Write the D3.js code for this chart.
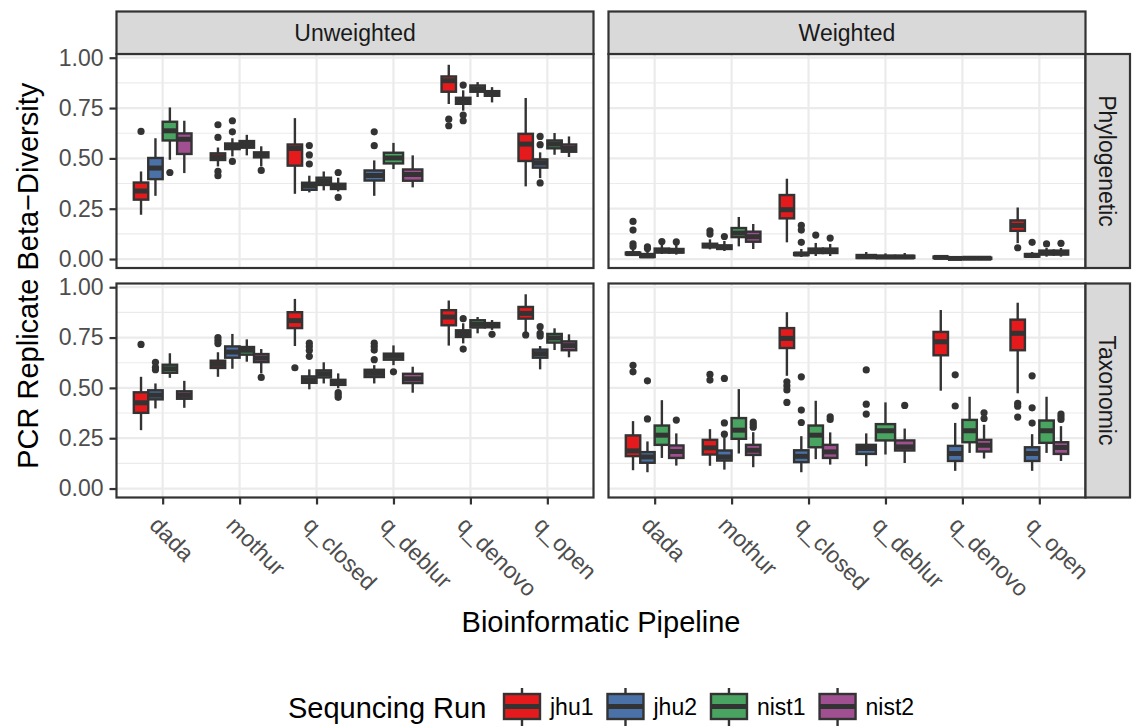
<!DOCTYPE html>
<html>
<head>
<meta charset="utf-8">
<script src="https://cdn.jsdelivr.net/npm/d3@7"></script>
<style>
  html, body { margin: 0; padding: 0; background: #ffffff; }
  svg { display: block; font-family: "Liberation Sans", Arial, Helvetica, sans-serif; }
</style>
</head>
<body>
<svg id="chart" width="1133" height="726"></svg>
<script>
// ---- data -------------------------------------------------------------
const pipelines = ["dada", "mothur", "q_closed", "q_deblur", "q_denovo", "q_open"];
const runs = ["jhu1", "jhu2", "nist1", "nist2"];
const runColors = ["#E41A1C", "#4A72A8", "#48A460", "#A05090"];
const metrics = ["Unweighted", "Weighted"];
const methods = ["Phylogenetic", "Taxonomic"];
const yTicks = [0, 0.25, 0.5, 0.75, 1];

// Box summaries [lower whisker, Q1, median, Q3, upper whisker] per pipeline,
// one entry per sequencing run (null = run not available for that pipeline).
const unweightedPhylo = [
  [[0.22, 0.295, 0.338, 0.38, 0.435], [0.314, 0.397, 0.452, 0.502, 0.60], [0.493, 0.589, 0.637, 0.682, 0.753], [0.427, 0.522, 0.595, 0.624, 0.687]],
  [[0.46, 0.492, 0.507, 0.525, 0.554], [0.51, 0.546, 0.56, 0.574, 0.60], [0.515, 0.553, 0.569, 0.586, 0.617], [0.46, 0.505, 0.518, 0.53, 0.56]],
  [[0.324, 0.464, 0.549, 0.569, 0.70], [0.331, 0.344, 0.365, 0.379, 0.414], [0.341, 0.368, 0.385, 0.404, 0.435], [0.336, 0.348, 0.36, 0.374, 0.404]],
  [null, [0.314, 0.39, 0.415, 0.44, 0.49], [0.447, 0.475, 0.502, 0.528, 0.577], [0.356, 0.389, 0.42, 0.445, 0.515]],
  [[0.77, 0.831, 0.886, 0.907, 0.965], [0.737, 0.771, 0.785, 0.801, 0.838], [0.805, 0.831, 0.845, 0.862, 0.879], [0.778, 0.811, 0.822, 0.834, 0.854]],
  [[0.361, 0.487, 0.571, 0.622, 0.80], [0.402, 0.454, 0.477, 0.495, 0.53], [0.518, 0.55, 0.571, 0.589, 0.626], [0.507, 0.533, 0.549, 0.569, 0.609]]
];
const unweightedPhyloOut = [
  [[0.634], [], [0.43], []],
  [[0.667, 0.604, 0.435, 0.414], [0.687, 0.632, 0.485], [], [0.44]],
  [[], [0.564, 0.517, 0.472], [], [0.43, 0.306]],
  [[], [0.632, 0.563], [], []],
  [[0.695, 0.662], [0.864, 0.715, 0.687], [], []],
  [[], [0.609, 0.568, 0.378], [], []]
];

const weightedPhylo = [
  [[0.015, 0.023, 0.027, 0.032, 0.05], [0.005, 0.01, 0.016, 0.025, 0.04], [0.025, 0.032, 0.042, 0.052, 0.075], [0.022, 0.032, 0.04, 0.05, 0.07]],
  [[0.048, 0.058, 0.066, 0.076, 0.098], [0.04, 0.05, 0.058, 0.068, 0.09], [0.063, 0.109, 0.129, 0.154, 0.209], [0.05, 0.086, 0.111, 0.136, 0.174]],
  [[0.083, 0.202, 0.245, 0.318, 0.399], [0.01, 0.02, 0.025, 0.03, 0.05], [0.015, 0.03, 0.04, 0.052, 0.08], [0.015, 0.03, 0.04, 0.052, 0.075]],
  [null, [0.0, 0.005, 0.012, 0.02, 0.035], [0.0, 0.006, 0.01, 0.016, 0.028], [0.0, 0.006, 0.01, 0.016, 0.03]],
  [[0.0, 0.005, 0.008, 0.012, 0.02], [0.0, 0.001, 0.003, 0.006, 0.012], [0.0, 0.001, 0.004, 0.007, 0.012], [0.0, 0.001, 0.004, 0.007, 0.012]],
  [[0.079, 0.14, 0.167, 0.192, 0.256], [0.005, 0.012, 0.018, 0.025, 0.035], [0.012, 0.022, 0.032, 0.042, 0.055], [0.012, 0.022, 0.032, 0.042, 0.055]]
];
const weightedPhyloOut = [
  [[0.187, 0.144, 0.076, 0.062], [0.06, 0.052], [0.087], [0.085]],
  [[0.14, 0.124], [0.112], [], []],
  [[], [0.167, 0.144, 0.083], [0.119], [0.104]],
  [[], [], [], []],
  [[], [], [], []],
  [[0.056], [0.083], [0.075], [0.078]]
];

const unweightedTaxo = [
  [[0.29, 0.376, 0.426, 0.478, 0.555], [0.398, 0.443, 0.464, 0.488, 0.522], [0.55, 0.575, 0.595, 0.615, 0.672], [0.401, 0.446, 0.463, 0.483, 0.535]],
  [[0.555, 0.599, 0.617, 0.635, 0.677], [0.595, 0.65, 0.678, 0.706, 0.768], [0.63, 0.665, 0.687, 0.703, 0.741], [0.572, 0.628, 0.648, 0.668, 0.693]],
  [[0.708, 0.797, 0.834, 0.876, 0.942], [0.493, 0.525, 0.54, 0.557, 0.592], [0.522, 0.552, 0.57, 0.587, 0.627], [0.498, 0.515, 0.528, 0.54, 0.572]],
  [null, [0.522, 0.554, 0.572, 0.59, 0.613], [0.613, 0.64, 0.657, 0.67, 0.711], [0.476, 0.524, 0.545, 0.57, 0.605]],
  [[0.71, 0.811, 0.852, 0.886, 0.934], [0.721, 0.753, 0.77, 0.786, 0.821], [0.771, 0.8, 0.816, 0.836, 0.852], [0.788, 0.801, 0.81, 0.822, 0.837]],
  [[0.771, 0.844, 0.87, 0.902, 0.965], [0.592, 0.65, 0.67, 0.69, 0.708], [0.688, 0.725, 0.748, 0.768, 0.796], [0.652, 0.687, 0.71, 0.731, 0.766]]
];
const unweightedTaxoOut = [
  [[0.716], [0.627, 0.602, 0.59], [], []],
  [[0.75, 0.735, 0.72], [], [], [0.552]],
  [[0.60], [0.722, 0.705, 0.686, 0.657], [], [0.476, 0.465, 0.453]],
  [[], [0.722, 0.705, 0.688, 0.64], [0.58], []],
  [[], [0.844, 0.693], [], [0.766]],
  [[0.763], [0.804, 0.771, 0.758], [], []]
];

const weightedTaxo = [
  [[0.091, 0.161, 0.187, 0.264, 0.335], [0.081, 0.128, 0.157, 0.181, 0.234], [0.152, 0.217, 0.265, 0.313, 0.439], [0.114, 0.152, 0.184, 0.214, 0.274]],
  [[0.113, 0.169, 0.202, 0.242, 0.295], [0.094, 0.139, 0.157, 0.189, 0.262], [0.174, 0.247, 0.29, 0.35, 0.494], [0.106, 0.167, 0.19, 0.217, 0.28]],
  [[0.56, 0.698, 0.746, 0.797, 0.876], [0.081, 0.131, 0.16, 0.19, 0.26], [0.146, 0.205, 0.265, 0.313, 0.436], [0.119, 0.152, 0.182, 0.217, 0.279]],
  [null, [0.111, 0.172, 0.199, 0.217, 0.274], [0.169, 0.239, 0.287, 0.32, 0.428], [0.127, 0.189, 0.207, 0.239, 0.298]],
  [[0.486, 0.662, 0.729, 0.778, 0.887], [0.088, 0.137, 0.174, 0.212, 0.326], [0.177, 0.23, 0.287, 0.341, 0.456], [0.149, 0.184, 0.215, 0.242, 0.317]],
  [[0.473, 0.687, 0.771, 0.839, 0.923], [0.088, 0.137, 0.174, 0.205, 0.27], [0.177, 0.227, 0.287, 0.338, 0.456], [0.137, 0.172, 0.204, 0.23, 0.31]]
];
const weightedTaxoOut = [
  [[0.612, 0.58], [0.535, 0.346], [], [0.34]],
  [[0.567, 0.539], [0.547, 0.326, 0.27], [], [0.33, 0.318, 0.305]],
  [[0.53, 0.51, 0.49, 0.428], [0.555, 0.39, 0.328], [], [0.356, 0.343]],
  [[], [0.589, 0.419, 0.37], [], [0.413]],
  [[], [0.565, 0.41], [], [0.376, 0.348]],
  [[0.423, 0.409, 0.355], [0.56, 0.401, 0.325], [], [0.37, 0.356, 0.343]]
];

// ---- layout -----------------------------------------------------------
const svg = d3.select("#chart");
const PW = 477, PH = 214;
const colX = [116.5, 608.5];
const rowY = [54, 283.5];
const stripTop = 11.5;
const stripRightX = colX[1] + PW, stripRightW = 44.5;

const INK = "#333333", GRID = "#EBEBEB";
const SMALL = 23, BIG = 29;

const x = d3.scalePoint().domain(pipelines).range([0, PW]).padding(0.6);
const y = d3.scaleLinear().domain([-0.0445, 1.0185]).range([PH, 0]);
const minorTicks = [0.125, 0.375, 0.625, 0.875];

const panels = [
  { col: 0, row: 0, stats: unweightedPhylo, outs: unweightedPhyloOut },
  { col: 1, row: 0, stats: weightedPhylo, outs: weightedPhyloOut },
  { col: 0, row: 1, stats: unweightedTaxo, outs: unweightedTaxoOut },
  { col: 1, row: 1, stats: weightedTaxo, outs: weightedTaxoOut }
];

function drawBoxes(g, stats, outs) {
  pipelines.forEach((p, i) => {
    const present = runs
      .map((r, j) => ({ j, s: stats[i][j], o: outs[i][j] }))
      .filter(d => d.s);
    const n = present.length;
    const slot = 0.75 * x.step() / n;
    present.forEach((d, k) => {
      const cx = x(p) + (k - (n - 1) / 2) * slot;
      const [lo, q1, med, q3, hi] = d.s;
      const bg = g.append("g");
      bg.selectAll("circle").data(d.o).join("circle")
        .attr("cx", cx).attr("cy", v => y(v)).attr("r", 3.6)
        .attr("fill", INK);
      bg.append("line")
        .attr("x1", cx).attr("x2", cx).attr("y1", y(hi)).attr("y2", y(q3))
        .attr("stroke", INK).attr("stroke-width", 2.4);
      bg.append("line")
        .attr("x1", cx).attr("x2", cx).attr("y1", y(q1)).attr("y2", y(lo))
        .attr("stroke", INK).attr("stroke-width", 2.4);
      bg.append("rect")
        .attr("x", cx - slot / 2).attr("width", slot)
        .attr("y", y(q3)).attr("height", Math.max(0, y(q1) - y(q3)))
        .attr("fill", runColors[d.j]).attr("stroke", INK).attr("stroke-width", 2.4);
      bg.append("line")
        .attr("x1", cx - slot / 2).attr("x2", cx + slot / 2)
        .attr("y1", y(med)).attr("y2", y(med))
        .attr("stroke", INK).attr("stroke-width", 5);
    });
  });
}

panels.forEach(pn => {
  const g = svg.append("g").attr("transform", `translate(${colX[pn.col]},${rowY[pn.row]})`);
  // background grid
  g.selectAll(".minor").data(minorTicks).join("line")
    .attr("x1", 0).attr("x2", PW).attr("y1", d => y(d)).attr("y2", d => y(d))
    .attr("stroke", GRID).attr("stroke-width", 1.1);
  g.selectAll(".majorY").data(yTicks).join("line")
    .attr("x1", 0).attr("x2", PW).attr("y1", d => y(d)).attr("y2", d => y(d))
    .attr("stroke", GRID).attr("stroke-width", 2.2);
  g.selectAll(".majorX").data(pipelines).join("line")
    .attr("x1", d => x(d)).attr("x2", d => x(d)).attr("y1", 0).attr("y2", PH)
    .attr("stroke", GRID).attr("stroke-width", 2.2);

  drawBoxes(g, pn.stats, pn.outs);

  g.append("rect").attr("width", PW).attr("height", PH)
    .attr("fill", "none").attr("stroke", INK).attr("stroke-width", 2.2);

  if (pn.col === 0) {
    const ax = g.append("g").attr("color", INK)
      .call(d3.axisLeft(y).tickValues(yTicks).tickFormat(d3.format(".2f")).tickSize(7).tickPadding(6));
    ax.select(".domain").remove();
    ax.selectAll("line").attr("stroke-width", 2.2);
    ax.selectAll("text").attr("fill", "#4D4D4D").style("font-size", SMALL + "px")
      .style("font-family", "'Liberation Sans', Arial, sans-serif");
  }
  if (pn.row === 1) {
    const ax = g.append("g").attr("color", INK).attr("transform", `translate(0,${PH})`)
      .call(d3.axisBottom(x).tickSize(7));
    ax.select(".domain").remove();
    ax.selectAll("line").attr("stroke-width", 2.2);
    ax.selectAll("text")
      .attr("x", 0).attr("y", 0).attr("dy", null)
      .attr("transform", "translate(-15,29) rotate(45)")
      .attr("text-anchor", "start")
      .attr("fill", "#4D4D4D").style("font-size", SMALL + "px")
      .style("font-family", "'Liberation Sans', Arial, sans-serif");
  }
});

// facet strips
metrics.forEach((m, c) => {
  const s = svg.append("g").attr("transform", `translate(${colX[c]},${stripTop})`);
  s.append("rect").attr("width", PW).attr("height", rowY[0] - stripTop)
    .attr("fill", "#D9D9D9").attr("stroke", INK).attr("stroke-width", 2.2);
  s.append("text").attr("x", PW / 2).attr("y", (rowY[0] - stripTop) / 2).attr("dy", "0.36em")
    .attr("text-anchor", "middle").attr("fill", "#1A1A1A").style("font-size", SMALL + "px").text(m);
});
methods.forEach((m, r) => {
  const s = svg.append("g").attr("transform", `translate(${stripRightX},${rowY[r]})`);
  s.append("rect").attr("width", stripRightW).attr("height", PH)
    .attr("fill", "#D9D9D9").attr("stroke", INK).attr("stroke-width", 2.2);
  s.append("text")
    .attr("transform", `translate(${stripRightW / 2},${PH / 2}) rotate(90)`)
    .attr("dy", "0.36em").attr("text-anchor", "middle")
    .attr("fill", "#1A1A1A").style("font-size", SMALL + "px").text(m);
});

// axis titles
svg.append("text")
  .attr("x", (colX[0] + colX[1] + PW) / 2).attr("y", 632)
  .attr("text-anchor", "middle").attr("fill", "#000").style("font-size", BIG + "px")
  .text("Bioinformatic Pipeline");
svg.append("text")
  .attr("transform", `translate(38,${(rowY[0] + rowY[1] + PH) / 2}) rotate(-90)`)
  .attr("text-anchor", "middle").attr("fill", "#000").style("font-size", BIG + "px")
  .text("PCR Replicate Beta\u2212Diversity");

// legend
const leg = svg.append("g");
leg.append("text").attr("x", 288).attr("y", 718).attr("fill", "#000")
  .style("font-size", BIG + "px").text("Sequncing Run");
let kx = 504;
const keyW = 36, keyTop = 694, keyBot = 719;
runs.forEach((r, j) => {
  const k = leg.append("g");
  k.append("line").attr("x1", kx + keyW / 2).attr("x2", kx + keyW / 2)
    .attr("y1", 688).attr("y2", 730).attr("stroke", INK).attr("stroke-width", 2.4);
  k.append("rect").attr("x", kx).attr("y", keyTop).attr("width", keyW).attr("height", keyBot - keyTop)
    .attr("fill", runColors[j]).attr("stroke", INK).attr("stroke-width", 2.4);
  k.append("line").attr("x1", kx).attr("x2", kx + keyW)
    .attr("y1", (keyTop + keyBot) / 2).attr("y2", (keyTop + keyBot) / 2)
    .attr("stroke", INK).attr("stroke-width", 5);
  const t = k.append("text").attr("x", kx + keyW + 10).attr("y", 715).attr("fill", "#000")
    .style("font-size", SMALL + "px").text(r);
  kx = kx + keyW + 10 + t.node().getComputedTextLength() + 14;
});
</script>
</body>
</html>
